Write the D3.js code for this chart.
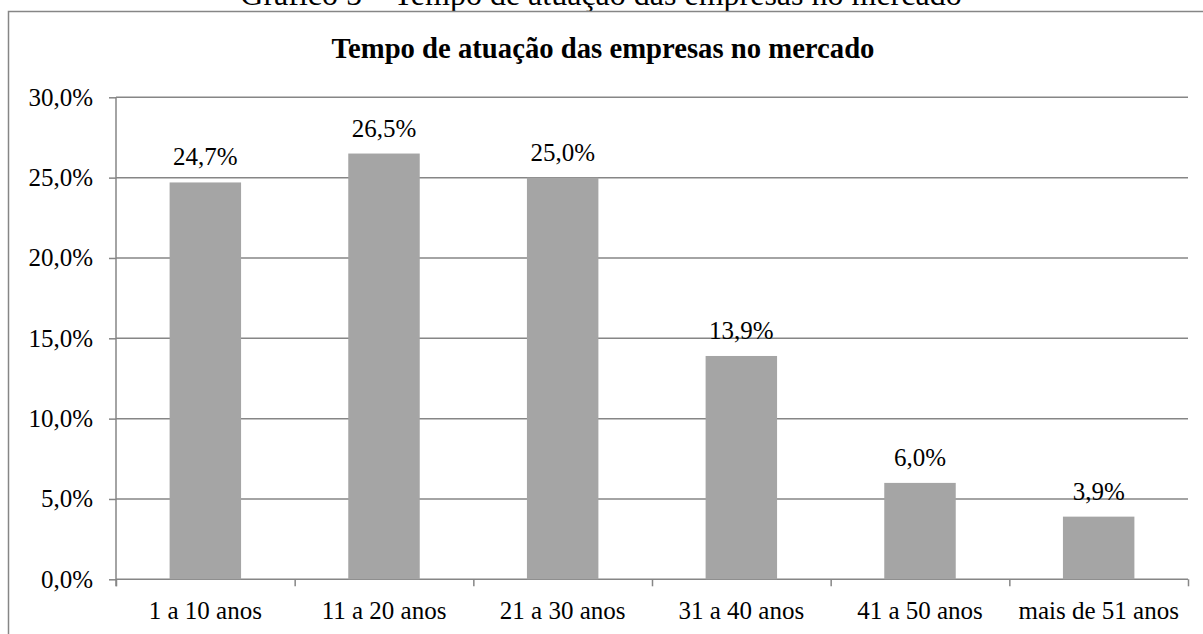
<!DOCTYPE html>
<html>
<head>
<meta charset="utf-8">
<script src="https://cdn.jsdelivr.net/npm/d3@7"></script>
<style>
  html, body { margin: 0; padding: 0; background: #fff; overflow: hidden; }
  svg { display: block; }
  svg text { font-family: "Liberation Serif", "Times New Roman", serif; }
</style>
</head>
<body>
<svg id="chart" width="1203" height="634"></svg>
<script>
// Share of companies by years of activity in the market
const categories = ["1 a 10 anos", "11 a 20 anos", "21 a 30 anos", "31 a 40 anos", "41 a 50 anos", "mais de 51 anos"];
const values = [24.7, 26.5, 25.0, 13.9, 6.0, 3.9];
const yTicks = [0, 5, 10, 15, 20, 25, 30];
const caption = "Gráfico 5 – Tempo de atuação das empresas no mercado";
const chartTitle = "Tempo de atuação das empresas no mercado";

const serif = '"Liberation Serif", "Times New Roman", serif';
const svg = d3.select("#chart");
const fmt = v => d3.format(".1f")(v).replace(".", ",") + "%";

const plotLeft = 116, plotRight = 1188, plotTop = 97.3, plotBottom = 579.3;
const axisColor = "#868686";

// document caption above the chart frame (runs past the top of the page)
svg.append("text")
  .attr("x", 601).attr("y", 5)
  .attr("text-anchor", "middle")
  .attr("font-family", serif)
  .style("font-size", "32px")
  .text(caption);

// chart frame
svg.append("rect")
  .attr("x", 8.5).attr("y", 11.5)
  .attr("width", 1230).attr("height", 660)
  .attr("fill", "none")
  .attr("stroke", axisColor)
  .attr("stroke-width", 1.5);

// chart title
svg.append("text")
  .attr("x", 603).attr("y", 58)
  .attr("text-anchor", "middle")
  .attr("font-family", serif)
  .style("font-size", "28.7px")
  .style("font-weight", "bold")
  .text(chartTitle);

const x = d3.scaleBand().domain(categories).range([plotLeft, plotRight])
  .paddingInner(0.6).paddingOuter(0.3);
const y = d3.scaleLinear().domain([0, 30]).range([plotBottom, plotTop]);
const xEdges = d3.scaleLinear().domain([0, categories.length]).range([plotLeft, plotRight]);

// y axis ticks and labels
const yAxis = svg.append("g")
  .attr("transform", `translate(${plotLeft},0)`)
  .call(d3.axisLeft(y).tickValues(yTicks).tickFormat(fmt).tickSize(7).tickPadding(16))
  .attr("font-family", serif);
yAxis.select(".domain").remove();
yAxis.selectAll(".tick line").attr("stroke", axisColor).attr("stroke-width", 1.5);
yAxis.selectAll(".tick text")
  .attr("fill", "#000")
  .attr("font-family", serif)
  .style("font-size", "25px");

// horizontal gridlines
svg.append("g")
  .selectAll("line")
  .data(yTicks)
  .join("line")
  .attr("x1", plotLeft).attr("x2", plotRight)
  .attr("y1", d => y(d)).attr("y2", d => y(d))
  .attr("stroke", axisColor).attr("stroke-width", 1.5);

// bars
svg.append("g")
  .selectAll("rect")
  .data(values)
  .join("rect")
  .attr("x", (d, i) => x(categories[i]))
  .attr("y", d => y(d))
  .attr("width", x.bandwidth())
  .attr("height", d => y(0) - y(d))
  .attr("fill", "#a5a5a5");

// value labels
svg.append("g")
  .selectAll("text")
  .data(values)
  .join("text")
  .attr("x", (d, i) => x(categories[i]) + x.bandwidth() / 2)
  .attr("y", d => y(d) - 17)
  .attr("text-anchor", "middle")
  .attr("font-family", serif)
  .style("font-size", "25px")
  .text(d => fmt(d));

// vertical axis line
svg.append("line")
  .attr("x1", plotLeft).attr("x2", plotLeft)
  .attr("y1", plotTop).attr("y2", plotBottom + 7)
  .attr("stroke", axisColor).attr("stroke-width", 1.5);

// category boundary ticks
const xTicks = svg.append("g")
  .attr("transform", `translate(0,${plotBottom})`)
  .call(d3.axisBottom(xEdges).tickValues(d3.range(categories.length + 1)).tickFormat("").tickSize(7));
xTicks.select(".domain").remove();
xTicks.selectAll(".tick line").attr("stroke", axisColor).attr("stroke-width", 1.5);

// category labels
const xAxis = svg.append("g")
  .attr("transform", `translate(0,${plotBottom})`)
  .call(d3.axisBottom(x).tickSize(0).tickPadding(22))
  .attr("font-family", serif);
xAxis.select(".domain").remove();
xAxis.selectAll(".tick text")
  .attr("fill", "#000")
  .attr("font-family", serif)
  .style("font-size", "25px");
</script>
</body>
</html>
